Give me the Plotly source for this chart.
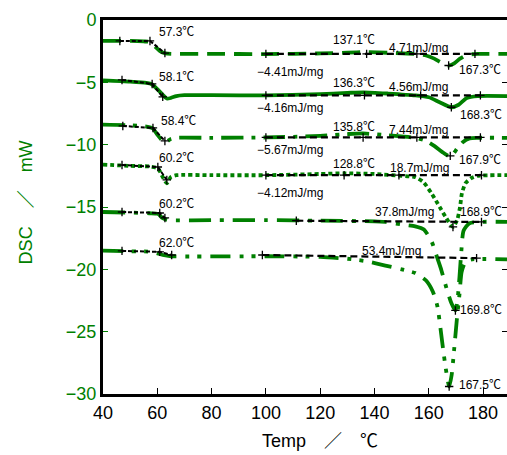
import plotly.graph_objects as go

GREEN = "#008000"
FONT = "Liberation Sans, Arial, Noto Sans CJK JP, sans-serif"

# ---------------- data (Temp in degC, DSC in mW) ----------------
t1 = [40, 50, 55, 57, 59, 61, 63, 66, 80, 100, 120, 130, 137, 145, 155, 159, 162, 164.5, 167.3, 169.5, 171.5, 174, 178, 188.8]
v1 = [-1.68, -1.68, -1.72, -1.76, -2.1, -2.5, -2.68, -2.72, -2.72, -2.73, -2.68, -2.62, -2.58, -2.63, -2.72, -2.85, -3.1, -3.4, -3.65, -3.45, -3.1, -2.8, -2.72, -2.72]

t2 = [40, 50, 56, 58, 60, 62, 63.5, 65, 67, 70, 80, 100, 120, 130, 136, 145, 155, 160, 164, 168.3, 171, 174, 178, 188.8]
v2 = [-4.85, -4.95, -5.05, -5.15, -5.55, -6.0, -6.3, -6.25, -6.1, -6.03, -6.03, -6.05, -5.95, -5.85, -5.8, -5.9, -6.05, -6.2, -6.6, -7.0, -6.8, -6.25, -6.1, -6.1]

t3 = [40, 50, 56, 58.4, 60, 62, 63, 65, 67, 80, 100, 120, 130, 135.8, 145, 155, 159, 162, 165, 167.9, 170.5, 172.5, 175, 178, 188.8]
v3 = [-8.4, -8.45, -8.55, -8.7, -9.2, -9.7, -9.8, -9.55, -9.45, -9.45, -9.42, -9.3, -9.15, -9.1, -9.25, -9.45, -9.7, -10.1, -10.6, -10.95, -10.3, -9.8, -9.5, -9.45, -9.45]

t4 = [40, 50, 57, 60.2, 62, 63.5, 65, 67, 80, 100, 120, 128.8, 140, 150, 155, 158, 161, 164, 166.2, 168.9, 170.5, 171.5, 172.2, 173.5, 175.5, 178, 188.8]
v4 = [-11.6, -11.7, -11.75, -11.9, -12.6, -13.1, -12.6, -12.45, -12.45, -12.45, -12.35, -12.3, -12.35, -12.5, -12.6, -13.0, -13.9, -15.0, -15.8, -16.6, -16.0, -15.0, -13.9, -13.1, -12.7, -12.5, -12.45]

t5 = [40, 50, 57, 60.2, 62, 64, 80, 100, 120, 140, 144, 150, 155, 158.2, 161.1, 163, 164.4, 166.5, 168.3, 169.8, 170.6, 171.3, 172, 172.8, 175, 188.8]
v5 = [-15.4, -15.45, -15.5, -15.55, -15.9, -16.05, -16.05, -16.05, -16.1, -16.15, -16.2, -16.4, -16.55, -16.8, -17.8, -19.0, -19.9, -21.5, -22.7, -23.3, -22.4, -20.6, -18.5, -16.9, -16.3, -16.2]

t6 = [40, 50, 58, 62, 65, 100, 120, 130, 137, 144, 150, 155, 159, 161.5, 163.2, 164.4, 165.5, 166.5, 167.5, 168.4, 169.3, 170.3, 171.3, 172.1, 173.5, 176, 188.8]
v6 = [-18.5, -18.55, -18.6, -18.85, -18.95, -18.95, -19.0, -19.15, -19.35, -19.7, -20.0, -20.3, -20.9, -21.8, -23.0, -24.9, -26.8, -28.3, -29.4, -28.5, -26.5, -24.1, -22.0, -20.2, -19.4, -19.2, -19.2]

curves = [(t1, v1), (t2, v2), (t3, v3), (t4, v4), (t5, v5), (t6, v6)]
dashes = ["18px,9px", "solid", "22px,8px,4px,8px", "4px,3px", "22px,9px,4px,9px", "20px,9px,4px,8px,4px,9px"]

# glass-transition tangent lines (onset construction)
tg_t = [[46.2, 57.3, 62.8], [47.0, 58.1, 62.0], [47.3, 58.4, 62.8],
        [47.0, 60.2, 63.5], [47.0, 60.9, 62.8], [47.0, 60.9, 65.3]]
tg_v = [[-1.68, -1.68, -2.65], [-4.81, -5.13, -6.17], [-8.5, -8.66, -9.7],
        [-11.63, -11.79, -12.83], [-15.4, -15.48, -15.88], [-18.52, -18.6, -18.85]]

# integration baselines
bl_t = [[100, 137.1, 155.6, 177.0], [100, 136.3, 157.0, 179.0], [100, 135.8, 155.6, 179.0],
        [100, 128.8, 149.0, 179.4], [111.2, 179.4], [98.7, 177.6]]
bl_v = [[-2.72, -2.72, -2.72, -2.72], [-6.05, -6.05, -6.05, -6.05], [-9.42, -9.42, -9.42, -9.42],
        [-12.45, -12.45, -12.45, -12.45], [-16.1, -16.2], [-18.85, -19.1]]

# melting peak markers
pk_t = [167.3, 168.3, 167.9, 168.9, 169.8, 167.5]
pk_v = [-3.65, -7.0, -10.9, -16.6, -23.3, -29.4]

# text labels
lab_text = ["57.3℃", "58.1℃", "58.4℃", "60.2℃", "60.2℃", "62.0℃",
            "−4.41mJ/mg", "−4.16mJ/mg", "−5.67mJ/mg", "−4.12mJ/mg",
            "137.1℃", "136.3℃", "135.8℃", "128.8℃",
            "4.71mJ/mg", "4.56mJ/mg", "7.44mJ/mg", "18.7mJ/mg", "37.8mJ/mg", "53.4mJ/mg",
            "167.3℃", "168.3℃", "167.9℃", "168.9℃", "169.8℃", "167.5℃"]
lab_t = [67.2, 67.2, 67.9, 67.2, 67.2, 67.2,
         109.0, 109.0, 109.0, 109.0,
         132.5, 132.5, 132.5, 132.5,
         156.3, 156.3, 156.3, 156.7, 151.2, 146.4,
         178.7, 179.1, 178.7, 179.4, 179.4, 178.7]
lab_v = [-0.96, -4.57, -8.1, -11.07, -14.76, -17.88,
         -4.17, -7.06, -10.43, -13.87,
         -1.6, -5.05, -8.58, -11.55,
         -2.25, -5.37, -8.82, -11.87, -15.4, -18.5,
         -4.0, -7.62, -11.23, -15.4, -23.26, -29.27]

x_ticks = [40, 60, 80, 100, 120, 140, 160, 180]
y_ticks = [0, -5, -10, -15, -20, -25, -30]

# ---------------- figure ----------------
fig = go.Figure()

for (t, v), d in zip(curves, dashes):
    fig.add_trace(go.Scatter(x=t, y=v, mode="lines",
                             line=dict(color=GREEN, width=3.8, dash=d, shape="spline", smoothing=0.6),
                             hoverinfo="skip"))

cross = dict(symbol="cross-thin", size=6, line=dict(color="black", width=1.3), color="black")
for t, v in zip(tg_t, tg_v):
    fig.add_trace(go.Scatter(x=t, y=v, mode="lines+markers",
                             line=dict(color="black", width=2, dash="4px,2px"), marker=cross))
for t, v in zip(bl_t, bl_v):
    fig.add_trace(go.Scatter(x=t, y=v, mode="lines+markers",
                             line=dict(color="black", width=2.2, dash="7px,4px"), marker=cross))
fig.add_trace(go.Scatter(x=pk_t, y=pk_v, mode="markers", marker=cross))

# right side ticks (secondary axis)
fig.add_trace(go.Scatter(x=[None], y=[None], yaxis="y2", mode="markers", showlegend=False))

for txt, tx, ty in zip(lab_text, lab_t, lab_v):
    fig.add_annotation(x=tx, y=ty, text=txt, showarrow=False, xanchor="center", yanchor="middle",
                       font=dict(family=FONT, size=12, color="black"))

fig.add_annotation(xref="paper", yref="paper", x=-0.19, y=0.513, text="DSC　／　mW",
                   textangle=-90, showarrow=False, xanchor="center", yanchor="middle",
                   font=dict(family=FONT, size=18, color=GREEN))
fig.add_annotation(xref="paper", yref="paper", x=0.537, y=-0.126, text="Temp　／　℃",
                   showarrow=False, xanchor="center", yanchor="middle",
                   font=dict(family=FONT, size=18, color="black"))

fig.update_layout(
    width=507, height=455,
    margin=dict(l=103, r=0, t=20, b=61),
    paper_bgcolor="white", plot_bgcolor="white",
    showlegend=False,
    xaxis=dict(range=[40, 188.8], tickvals=x_ticks, ticktext=[str(v) for v in x_ticks],
               showgrid=False, zeroline=False, showline=True, linecolor="black", linewidth=3,
               mirror=True, ticks="inside", ticklen=6, tickwidth=1, tickcolor="black",
               tickfont=dict(family=FONT, size=18, color="black")),
    yaxis=dict(range=[-30, 0], tickvals=y_ticks, ticktext=["0", "−5", "−10", "−15", "−20", "−25", "−30"],
               showgrid=False, zeroline=False, showline=True, linecolor="black", linewidth=3,
               ticks="inside", ticklen=5, tickwidth=1, tickcolor=GREEN,
               tickfont=dict(family=FONT, size=18, color=GREEN)),
    yaxis2=dict(range=[-30, 0], overlaying="y", side="right", tickvals=y_ticks,
                showticklabels=False, showgrid=False, zeroline=False, showline=False,
                ticks="inside", ticklen=5, tickwidth=1, tickcolor="black"),
)

fig.write_html("out.html")
